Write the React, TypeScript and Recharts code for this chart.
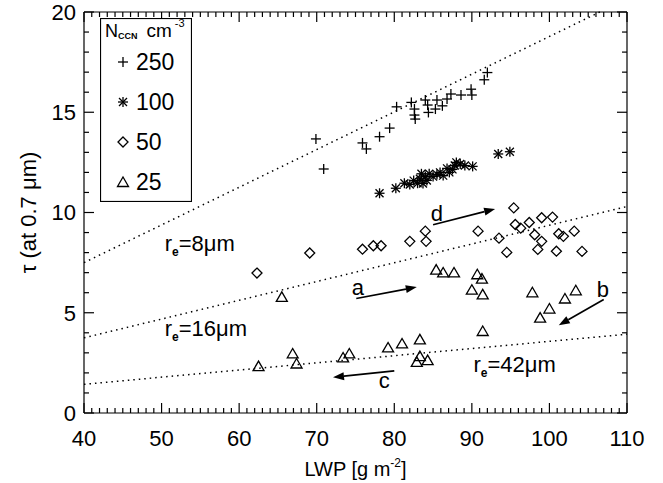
import { ScatterChart, Scatter, XAxis, YAxis, ReferenceLine, ReferenceDot, Legend } from 'recharts';

const FONT = '"Liberation Sans", Arial, sans-serif';

// axis ticks: labelled majors, one minor tick per unit
const xMajor = [40, 50, 60, 70, 80, 90, 100, 110];
const yMajor = [0, 5, 10, 15, 20];
const xMinor = Array.from({ length: 71 }, (_, i) => 40 + i);
const yMinor = Array.from({ length: 21 }, (_, i) => i);

// N_CCN = 250 cm-3
const lwp250 = [69.9, 70.9, 75.9, 76.4, 78.1, 79.4, 80.3, 82.2, 82.6, 82.6, 82.7, 84.0, 84.3, 84.4, 85.3, 85.5, 86.2, 86.8, 87.3, 88.6, 89.9, 90.0, 91.6, 92.0];
const tau250 = [13.67, 12.17, 13.47, 13.17, 13.78, 14.21, 15.27, 15.49, 15.16, 14.86, 14.66, 15.61, 15.36, 14.99, 15.16, 15.61, 15.32, 15.66, 15.91, 15.86, 16.15, 15.86, 16.62, 16.98];

// N_CCN = 100 cm-3
const lwp100 = [78.1, 80.2, 81.3, 82.0, 82.5, 83.0, 83.3, 83.5, 83.7, 84.0, 84.2, 84.5, 85.0, 85.5, 85.9, 86.3, 86.8, 87.1, 87.5, 87.8, 88.0, 88.5, 89.1, 90.1, 93.4, 94.9];
const tau100 = [10.96, 11.21, 11.46, 11.4, 11.59, 11.46, 11.68, 11.93, 11.45, 11.79, 11.6, 11.93, 11.79, 11.9, 12.0, 11.84, 12.2, 12.0, 12.15, 12.34, 12.5, 12.42, 12.34, 12.3, 12.92, 13.03];

// N_CCN = 50 cm-3
const lwp50 = [62.3, 69.1, 75.9, 77.3, 78.3, 82.0, 84.0, 84.1, 90.8, 93.5, 94.5, 95.4, 95.6, 96.3, 97.4, 98.1, 99.0, 99.0, 98.5, 100.4, 100.9, 101.2, 101.8, 103.2, 104.2];
const tau50 = [6.98, 7.98, 8.17, 8.34, 8.34, 8.56, 9.07, 8.56, 9.07, 8.72, 8.01, 10.23, 9.4, 9.22, 9.5, 8.89, 9.74, 8.56, 8.16, 9.77, 8.07, 8.94, 8.81, 9.07, 8.06];

// N_CCN = 25 cm-3
const lwp25 = [65.5, 85.4, 86.3, 87.7, 90.7, 91.3, 90.0, 91.4, 91.4, 97.8, 102.0, 103.4, 100.0, 98.8, 62.5, 66.9, 67.4, 73.4, 74.2, 79.2, 81.0, 83.3, 83.3, 82.9, 84.3];
const tau25 = [5.79, 7.15, 7.01, 7.01, 6.92, 6.7, 6.15, 5.92, 4.09, 6.02, 5.71, 6.12, 5.21, 4.76, 2.34, 2.97, 2.47, 2.77, 2.97, 3.27, 3.47, 3.67, 2.84, 2.55, 2.64];

const legendOrder = ['250', '100', '50', '25'];

// constant effective radius lines (end points)
const reNames = ['8', '16', '42'];
const reFrom = [[40, 7.5], [40, 3.75], [40, 1.43]];
const reTo = [[106.5, 20], [110, 10.3], [110, 3.93]];
const reLabelAt = [[50.4, 8.45], [50.4, 4.24], [90.2, 2.45]];

// trajectory arrows
const arrowNames = ['a', 'b', 'c', 'd'];
const arrowFrom = [[75.1, 5.71], [107.0, 5.66], [80.0, 2.1], [85.0, 9.39]];
const arrowTo = [[82.9, 6.28], [101.2, 4.38], [72.1, 1.78], [93.0, 10.18]];
const arrowLabelAt = [[75.3, 6.28], [106.9, 6.2], [78.7, 1.65], [85.5, 9.98]];

const toPoints = (lwp: number[], tau: number[]) => lwp.map((x, i) => ({ lwp: x, tau: tau[i] }));

type Kind = 'plus' | 'star' | 'diamond' | 'triangle';

function Marker({ kind, cx, cy }: { kind: Kind; cx: number; cy: number }) {
  const s = { stroke: '#000', strokeWidth: 1.3, fill: 'none' };
  if (kind === 'plus') {
    return (
      <g>
        <line x1={cx - 5} y1={cy} x2={cx + 5} y2={cy} {...s} />
        <line x1={cx} y1={cy - 5} x2={cx} y2={cy + 5} {...s} />
      </g>
    );
  }
  if (kind === 'star') {
    return (
      <g>
        <line x1={cx - 5} y1={cy} x2={cx + 5} y2={cy} {...s} />
        <line x1={cx} y1={cy - 5} x2={cx} y2={cy + 5} {...s} />
        <line x1={cx - 4} y1={cy - 4} x2={cx + 4} y2={cy + 4} {...s} />
        <line x1={cx - 4} y1={cy + 4} x2={cx + 4} y2={cy - 4} {...s} />
      </g>
    );
  }
  if (kind === 'diamond') {
    return <polygon points={`${cx},${cy - 5} ${cx + 5},${cy} ${cx},${cy + 5} ${cx - 5},${cy}`} {...s} />;
  }
  return <polygon points={`${cx - 5.5},${cy + 4.5} ${cx},${cy - 5} ${cx + 5.5},${cy + 4.5}`} {...s} />;
}

const kindOf: Record<string, Kind> = { '250': 'plus', '100': 'star', '50': 'diamond', '25': 'triangle' };

function LegendBox({ payload }: any) {
  const names = (payload || []).map((e: any) => e.value);
  const items = legendOrder.filter((n) => names.includes(n));
  return (
    <svg width={92} height={184} style={{ display: 'block', fontFamily: FONT }}>
      <rect x={0.5} y={0.5} width={91} height={183} fill="#fff" stroke="#000" strokeWidth={1.2} />
      <text x={5} y={19} fontSize={18} fill="#000">
        N<tspan fontSize={9} fontWeight="bold" dy={2}>CCN</tspan>
        <tspan fontSize={19} dx={9} dy={-2}>cm</tspan>
        <tspan fontSize={11} dx={3} dy={-10}>-3</tspan>
      </text>
      {items.map((n, i) => {
        const cy = 44 + i * 40;
        return (
          <g key={n}>
            <Marker kind={kindOf[n]} cx={23} cy={cy} />
            <text x={36} y={cy} dy="0.36em" fontSize={23} fill="#000">{n}</text>
          </g>
        );
      })}
    </svg>
  );
}

function arrowShape(p: any) {
  const { x1, y1, x2, y2 } = p;
  const ang = Math.atan2(y2 - y1, x2 - x1);
  const L = 11;
  const W = 4;
  const bx = x2 - L * Math.cos(ang);
  const by = y2 - L * Math.sin(ang);
  const nx = -Math.sin(ang) * W;
  const ny = Math.cos(ang) * W;
  return (
    <g>
      <line x1={x1} y1={y1} x2={bx} y2={by} stroke="#000" strokeWidth={1.6} />
      <polygon points={`${x2},${y2} ${bx + nx},${by + ny} ${bx - nx},${by - ny}`} fill="#000" />
    </g>
  );
}

// inward tick marks on both ends of a full-height / full-width reference line
const tickStroke = { stroke: '#000', strokeWidth: 1.2 };
const xTickShape = (len: number) => (p: any) => {
  const top = Math.min(p.y1, p.y2);
  const bot = Math.max(p.y1, p.y2);
  return (
    <g>
      <line x1={p.x1} y1={bot} x2={p.x1} y2={bot - len} {...tickStroke} />
      <line x1={p.x1} y1={top} x2={p.x1} y2={top + len} {...tickStroke} />
    </g>
  );
};
const yTickShape = (len: number) => (p: any) => {
  const left = Math.min(p.x1, p.x2);
  const right = Math.max(p.x1, p.x2);
  return (
    <g>
      <line x1={left} y1={p.y1} x2={left + len} y2={p.y1} {...tickStroke} />
      <line x1={right} y1={p.y1} x2={right - len} y2={p.y1} {...tickStroke} />
    </g>
  );
};

const frame = { stroke: '#000', strokeWidth: 1.2 };
const tickStyle = { fontSize: 22, fill: '#000', fontFamily: FONT };

export default function App() {
  return (
    <div style={{ position: 'absolute', left: 0, top: 0, width: 663, height: 483, background: '#fff', fontFamily: FONT }}>
      <ScatterChart width={663} height={483} margin={{ top: 12, right: 36, bottom: 30, left: 0 }}>
        <XAxis
          dataKey="lwp"
          type="number"
          domain={[40, 110]}
          ticks={xMajor}
          interval={0}
          height={40}
          axisLine={frame}
          tickLine={false}
          tickSize={0}
          tickMargin={17}
          tick={tickStyle}
          label={{
            content: ({ viewBox }: any) => (
              <text x={viewBox.x + viewBox.width / 2} y={viewBox.y + 63} textAnchor="middle" fontSize={20} fill="#000" fontFamily={FONT}>
                LWP [g m<tspan fontSize={12} dy={-9}>-2</tspan><tspan dy={9}>]</tspan>
              </text>
            ),
          }}
        />
        <YAxis
          dataKey="tau"
          type="number"
          domain={[0, 20]}
          ticks={yMajor}
          interval={0}
          width={84}
          axisLine={frame}
          tickLine={false}
          tickSize={0}
          tickMargin={8}
          tick={tickStyle}
          label={{
            content: ({ viewBox }: any) => {
              const cx = viewBox.x + 28;
              const cy = viewBox.y + viewBox.height / 2;
              return (
                <text x={cx} y={cy} transform={`rotate(-90 ${cx} ${cy})`} textAnchor="middle" dy="0.36em" fontSize={22} fill="#000" fontFamily={FONT}>
                  τ (at 0.7 μm)
                </text>
              );
            },
          }}
        />

        {/* top and right sides of the frame */}
        <ReferenceLine segment={[{ x: 40, y: 20 }, { x: 110, y: 20 }]} stroke="#000" strokeWidth={1.2} ifOverflow="visible" />
        <ReferenceLine segment={[{ x: 110, y: 0 }, { x: 110, y: 20 }]} stroke="#000" strokeWidth={1.2} ifOverflow="visible" />

        {xMinor.map((v) => (
          <ReferenceLine
            key={'xt' + v}
            segment={[{ x: v, y: 0 }, { x: v, y: 20 }]}
            ifOverflow="visible"
            shape={xTickShape(xMajor.includes(v) ? 10 : 5)}
          />
        ))}
        {yMinor.map((v) => (
          <ReferenceLine
            key={'yt' + v}
            segment={[{ x: 40, y: v }, { x: 110, y: v }]}
            ifOverflow="visible"
            shape={yTickShape(yMajor.includes(v) ? 10 : 5)}
          />
        ))}

        {reNames.map((n, i) => (
          <ReferenceLine
            key={'re' + n}
            segment={[{ x: reFrom[i][0], y: reFrom[i][1] }, { x: reTo[i][0], y: reTo[i][1] }]}
            stroke="#000"
            strokeWidth={1.5}
            strokeDasharray="1.5 4"
            ifOverflow="visible"
          />
        ))}
        {reNames.map((n, i) => (
          <ReferenceDot
            key={'rel' + n}
            x={reLabelAt[i][0]}
            y={reLabelAt[i][1]}
            r={0}
            ifOverflow="visible"
            shape={(p: any) => (
              <text x={p.cx} y={p.cy} dy="0.36em" fontSize={22} fill="#000" fontFamily={FONT}>
                r<tspan fontSize={12} fontWeight="bold" dy={5}>e</tspan>
                <tspan dy={-5}>={n}μm</tspan>
              </text>
            )}
          />
        ))}
        {arrowNames.map((n, i) => (
          <ReferenceLine
            key={'ar' + n}
            segment={[{ x: arrowFrom[i][0], y: arrowFrom[i][1] }, { x: arrowTo[i][0], y: arrowTo[i][1] }]}
            ifOverflow="visible"
            shape={arrowShape}
          />
        ))}
        {arrowNames.map((n, i) => (
          <ReferenceDot
            key={'arl' + n}
            x={arrowLabelAt[i][0]}
            y={arrowLabelAt[i][1]}
            r={0}
            ifOverflow="visible"
            shape={(p: any) => (
              <text x={p.cx} y={p.cy} dy="0.36em" textAnchor="middle" fontSize={22} fill="#000" fontFamily={FONT}>
                {n}
              </text>
            )}
          />
        ))}

        <Scatter name="250" data={toPoints(lwp250, tau250)} isAnimationActive={false} shape={(p: any) => <Marker kind="plus" cx={p.cx} cy={p.cy} />} />
        <Scatter name="100" data={toPoints(lwp100, tau100)} isAnimationActive={false} shape={(p: any) => <Marker kind="star" cx={p.cx} cy={p.cy} />} />
        <Scatter name="50" data={toPoints(lwp50, tau50)} isAnimationActive={false} shape={(p: any) => <Marker kind="diamond" cx={p.cx} cy={p.cy} />} />
        <Scatter name="25" data={toPoints(lwp25, tau25)} isAnimationActive={false} shape={(p: any) => <Marker kind="triangle" cx={p.cx} cy={p.cy} />} />

        <Legend
          layout="vertical"
          align="center"
          verticalAlign="middle"
          content={<LegendBox />}
          wrapperStyle={{ position: 'absolute', left: 100, top: 18, width: 92, height: 184, margin: 0, padding: 0 }}
        />
      </ScatterChart>
    </div>
  );
}
